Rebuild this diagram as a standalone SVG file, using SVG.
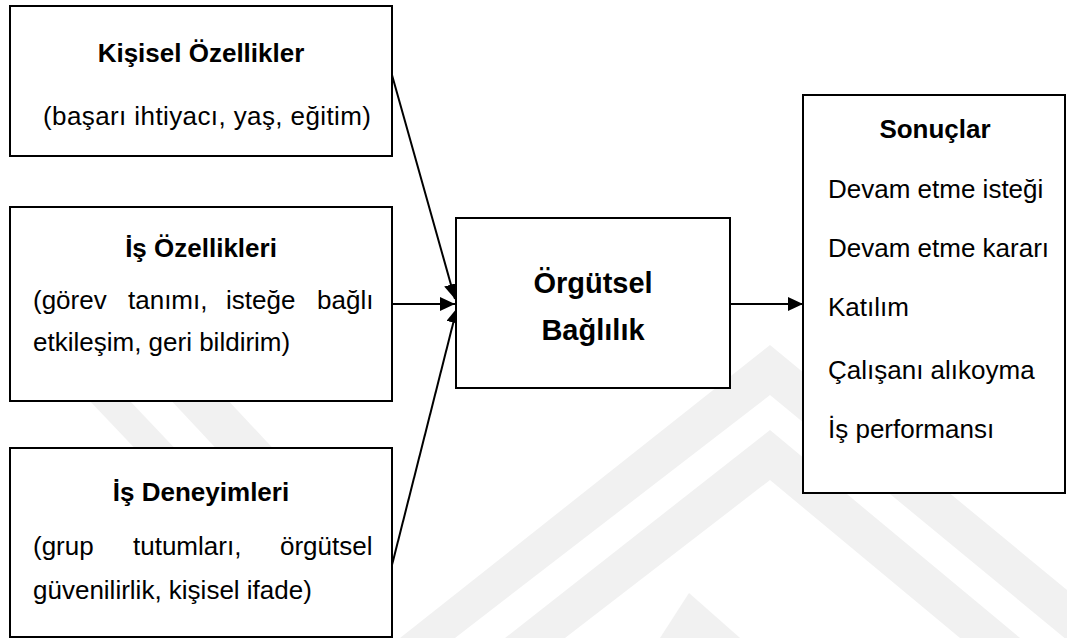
<svg xmlns="http://www.w3.org/2000/svg" width="1067" height="638" viewBox="0 0 1067 638">
<style>
.box{fill:#fff;stroke:#000;stroke-width:2}
.t{font-family:"Liberation Sans",Arial,sans-serif;font-size:26px;fill:#000}
.b{font-weight:bold}
.c{font-size:29px}
.wm{fill:#f1f1f1}
.edge{stroke:#000;stroke-width:2;fill:none}
</style>
<defs>
<marker id="ah" markerUnits="userSpaceOnUse" markerWidth="16" markerHeight="14" refX="15" refY="7" orient="auto">
<path d="M0,0 L15,7 L0,14 z" fill="#000"/>
</marker>
</defs>
<rect x="0" y="0" width="1067" height="638" fill="#fff"/>
<g id="watermark">
<polygon class="wm" points="70,380 110,380 184,458 144,458"/>
<polygon class="wm" points="152,380 209,380 282,458 225,458"/>
<polygon class="wm" points="400,638 455,638 770,395 770,345"/>
<polygon class="wm" points="505,638 565,638 770,480 770,430"/>
<polygon class="wm" points="770,345 770,395 1067,640 1067,590"/>
<polygon class="wm" points="770,430 770,480 960,638 1020,638"/>
<polygon class="wm" points="689,593 660,638 700,638 740,638"/>
</g>
<g id="connectors">
<line class="edge" x1="392" y1="75" x2="455" y2="299" marker-end="url(#ah)"/>
<line class="edge" x1="392" y1="304" x2="455" y2="304" marker-end="url(#ah)"/>
<line class="edge" x1="392" y1="565" x2="457" y2="308" marker-end="url(#ah)"/>
<line class="edge" x1="730" y1="304" x2="803" y2="304" marker-end="url(#ah)"/>
</g>
<g id="kisisel">
<rect class="box" x="10" y="6" width="382" height="150"/>
<text class="t b" x="201" y="62" text-anchor="middle">Kişisel Özellikler</text>
<text class="t" x="43" y="125" textLength="328" lengthAdjust="spacing">(başarı ihtiyacı, yaş, eğitim)</text>
</g>
<g id="is-ozellikleri">
<rect class="box" x="10" y="207" width="382" height="194"/>
<text class="t b" x="201" y="257" text-anchor="middle">İş Özellikleri</text>
<text class="t" y="309"><tspan x="33">(görev</tspan><tspan x="128">tanımı,</tspan><tspan x="226">isteğe</tspan><tspan x="317">bağlı</tspan></text>
<text class="t" x="33" y="351">etkileşim, geri bildirim)</text>
</g>
<g id="is-deneyimleri">
<rect class="box" x="10" y="448" width="382" height="189"/>
<text class="t b" x="201" y="501" text-anchor="middle">İş Deneyimleri</text>
<text class="t" y="555"><tspan x="33">(grup</tspan><tspan x="133">tutumları,</tspan><tspan x="280">örgütsel</tspan></text>
<text class="t" x="33" y="599">güvenilirlik, kişisel ifade)</text>
</g>
<g id="orgutsel-baglilik">
<rect class="box" x="456" y="218" width="274" height="170"/>
<text class="t b c" x="593" y="293" text-anchor="middle">Örgütsel</text>
<text class="t b c" x="593" y="340" text-anchor="middle">Bağlılık</text>
</g>
<g id="sonuclar">
<rect class="box" x="803" y="95" width="262" height="398"/>
<text class="t b" x="935" y="138" text-anchor="middle">Sonuçlar</text>
<text class="t" x="828" y="198">Devam etme isteği</text>
<text class="t" x="828" y="257">Devam etme kararı</text>
<text class="t" x="828" y="316">Katılım</text>
<text class="t" x="828" y="379">Çalışanı alıkoyma</text>
<text class="t" x="828" y="438">İş performansı</text>
</g>
</svg>
